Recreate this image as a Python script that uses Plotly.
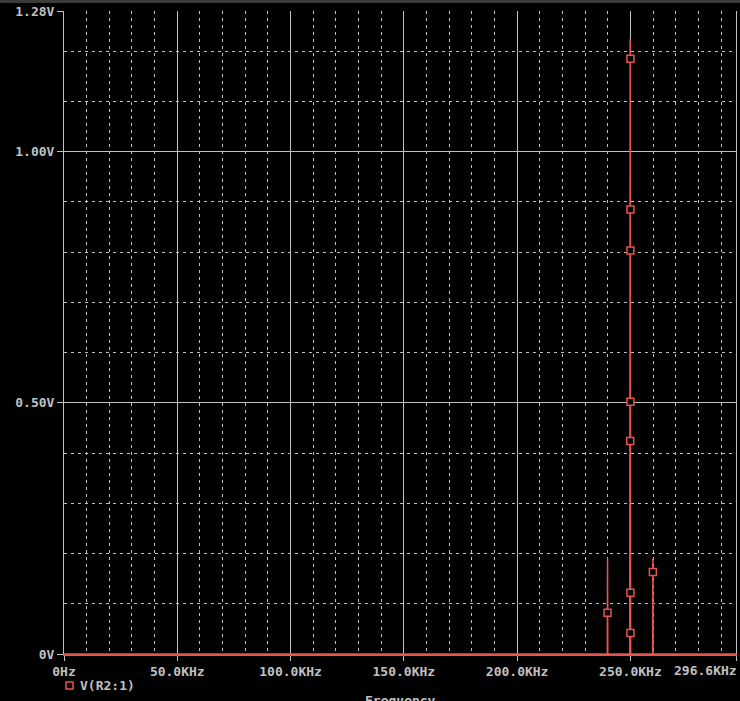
import plotly.graph_objects as go

# ---- data ----
freq_khz = [0, 239.8, 239.9, 240.0, 249.7, 249.8, 249.9, 250.0, 250.1, 259.8, 259.9, 260.0, 296.6]
volt = [0, 0, 0.19, 0, 0, 0.61, 1.225, 0.61, 0, 0, 0.19, 0, 0]

marker_freq = [239.9, 250.0, 250.0, 250.0, 250.0, 249.9, 250.0, 250.0, 259.9]
marker_volt = [0.082, 1.185, 0.885, 0.803, 0.502, 0.424, 0.122, 0.042, 0.163]

x_tickvals = [0, 50, 100, 150, 200, 250, 296.6]
x_ticktext = ["0Hz", "50.0KHz", "100.0KHz", "150.0KHz", "200.0KHz", "250.0KHz", "296.6KHz"]
y_tickvals = [0, 0.5, 1.0, 1.28]
y_ticktext = ["0V", "0.50V", "1.00V", "1.28V"]

trace_name = "V(R2:1)"
x_title = "Frequency"

RED = "#e5544e"
GRAY = "#c0c0c0"
FONT = dict(family="DejaVu Sans Mono", size=13, color=GRAY, weight="bold")

W, H = 740, 701
L, R, T, B = 64, 4, 11, 47
PW, PH = W - L - R, H - T - B

fig = go.Figure()
fig.add_trace(go.Scatter(x=freq_khz, y=volt, mode="lines",
                         line=dict(color=RED, width=1.5), showlegend=False,
                         hoverinfo="skip"))
fig.add_trace(go.Scatter(x=marker_freq, y=marker_volt, mode="markers", name=trace_name,
                         marker=dict(symbol="square", size=7, color="black",
                                     line=dict(color=RED, width=1.5)),
                         showlegend=False))

fig.update_layout(
    width=W, height=H,
    margin=dict(l=L, r=R, t=T, b=B, autoexpand=False),
    paper_bgcolor="black", plot_bgcolor="black",
    font=FONT,
    showlegend=False,
)

# last tick label is right-aligned at the plot edge (drawn separately below)
shown_ticktext = x_ticktext[:-1] + [""]

fig.update_xaxes(
    range=[0, 296.6], tickmode="array", tickvals=x_tickvals, ticktext=shown_ticktext,
    showgrid=True, gridcolor=GRAY, gridwidth=1,
    showline=True, linecolor=RED, linewidth=1.5, mirror=False,
    ticks="outside", ticklen=5, tickcolor=GRAY, tickwidth=1,
    zeroline=False, tickfont=FONT, layer="below traces",
    minor=dict(dtick=10, tick0=0, showgrid=True, gridcolor=GRAY, gridwidth=1,
               griddash="3px,4px", ticks=""),
)
fig.update_yaxes(
    range=[0, 1.28], tickmode="array", tickvals=y_tickvals, ticktext=y_ticktext,
    showgrid=True, gridcolor=GRAY, gridwidth=1,
    showline=True, linecolor=GRAY, linewidth=1, mirror=True,
    ticks="outside", ticklen=6, tickcolor=GRAY, tickwidth=1,
    zeroline=False, tickfont=FONT, layer="below traces",
    minor=dict(dtick=0.1, tick0=0, showgrid=True, gridcolor=GRAY, gridwidth=1,
               griddash="3px,4px", ticks=""),
)

def px_x(p):
    return (p - L) / PW

def px_y(p):
    return (H - B - p) / PH

fig.add_annotation(text=x_ticktext[-1], xref="paper", yref="paper",
                   x=px_x(739), y=px_y(670), xanchor="right", yanchor="middle",
                   showarrow=False, font=FONT)

# legend entry (square marker + label)
fig.add_shape(type="rect", xref="paper", yref="paper",
              x0=px_x(66), x1=px_x(73), y0=px_y(682), y1=px_y(689),
              line=dict(color=RED, width=1.5), fillcolor="black")
fig.add_annotation(text=trace_name, xref="paper", yref="paper",
                   x=px_x(78), y=px_y(685), xanchor="left", yanchor="middle",
                   showarrow=False, font=FONT)
# axis title
fig.add_annotation(text=x_title, xref="paper", yref="paper",
                   x=0.5, y=px_y(691), xanchor="center", yanchor="top",
                   showarrow=False, font=FONT)
# window chrome strip at top
fig.add_shape(type="rect", xref="paper", yref="paper",
              x0=px_x(0), x1=px_x(740), y0=px_y(0), y1=px_y(3),
              line=dict(width=0), fillcolor="#3a3a3a", layer="below")

fig.write_html("out.html",
               config={"displayModeBar": False},
               post_script="document.body.style.margin='0';"
                           "document.body.style.overflow='hidden';"
                           "document.body.style.background='black';")
